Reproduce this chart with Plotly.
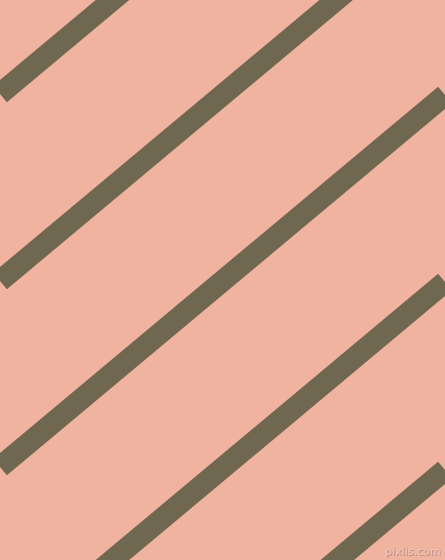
import plotly.graph_objects as go

W, H = 445, 560

# stripe centre lines: y where each crosses the left edge, shared slope (pixels down per pixel right)
intercepts = [94, 281, 467, 654, 842]
slope = 0.836
x_ends = [0, 445]

bg = "#EFB3A0"
stripe = "#6F6750"

fig = go.Figure()
for b in intercepts:
    fig.add_trace(go.Scatter(
        x=x_ends, y=[b - slope * x for x in x_ends],
        mode="lines", line=dict(color=stripe, width=21.5),
        hoverinfo="skip", showlegend=False,
    ))

fig.update_layout(
    width=W, height=H,
    margin=dict(l=0, r=0, t=0, b=0),
    paper_bgcolor=bg, plot_bgcolor=bg,
    xaxis=dict(range=[0, W], visible=False, fixedrange=True),
    yaxis=dict(range=[H, 0], visible=False, fixedrange=True),
    annotations=[dict(
        x=442, y=551, xref="x", yref="y", xanchor="right", yanchor="middle",
        text="pixlis.com", showarrow=False,
        font=dict(family="DejaVu Sans", size=11, color="#F4C5B6",
                  shadow="1px 1px 0px #B98B7C"),
    )],
)

# drop the page's default body margin so the figure sits at the window's corner
fig.write_html(
    "out.html",
    config=dict(displayModeBar=False),
    post_script="document.body.style.margin='0';document.body.style.overflow='hidden';",
)
